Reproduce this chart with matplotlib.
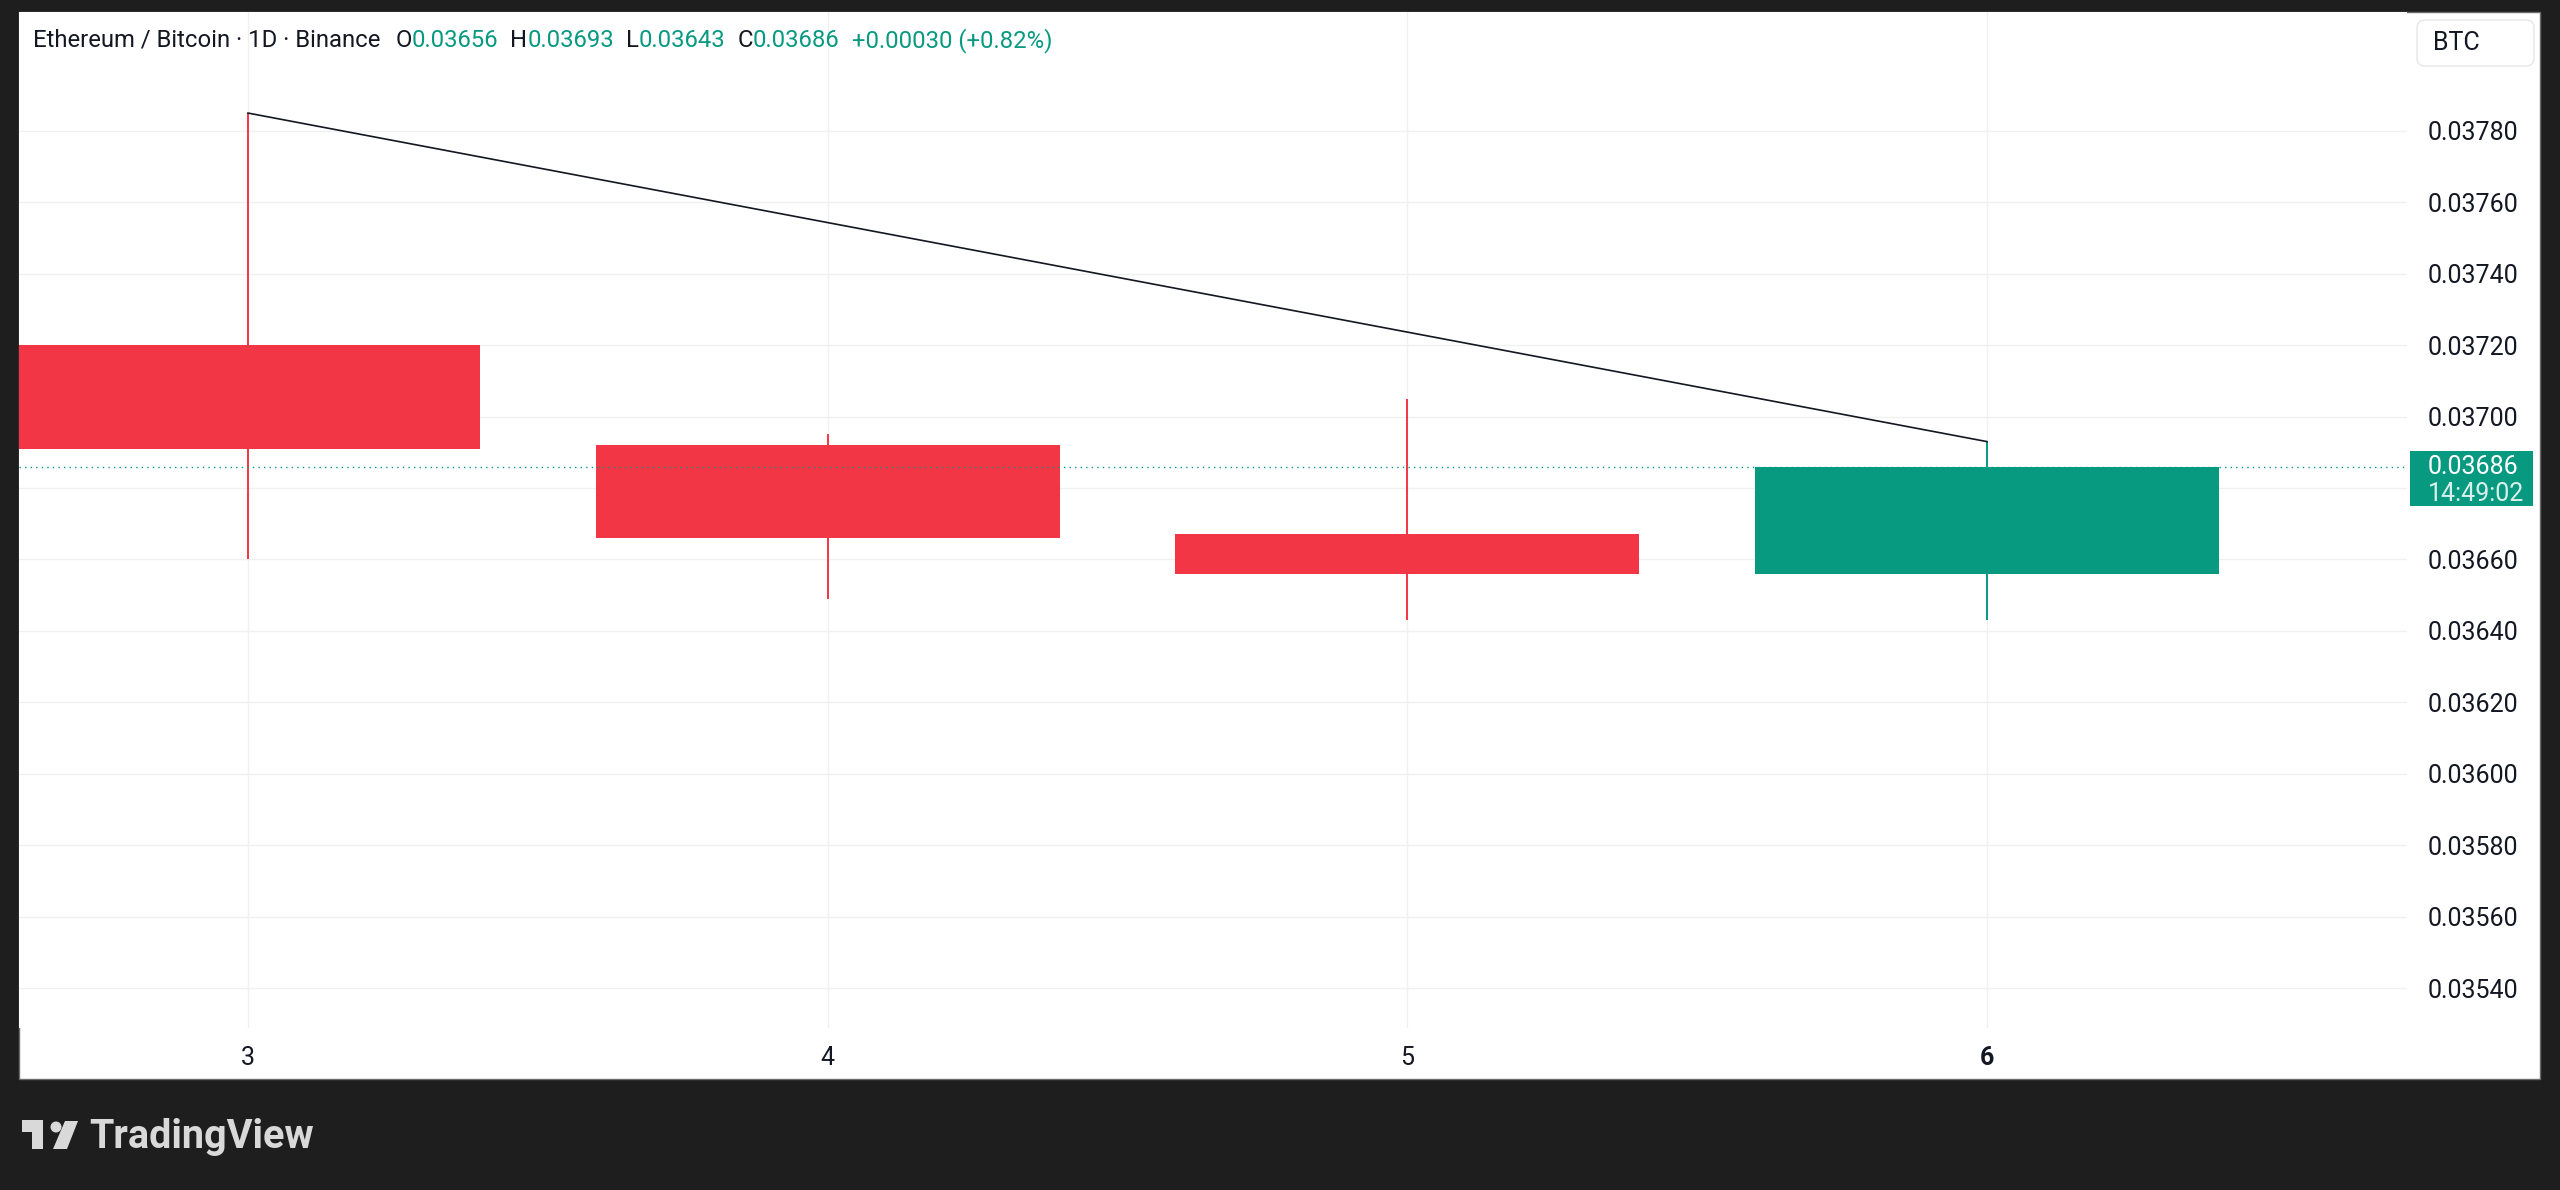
import matplotlib
matplotlib.use('Agg')
import matplotlib.pyplot as plt
from matplotlib.patches import Rectangle, FancyBboxPatch, Circle, Polygon

plt.rcParams['font.family'] = ['Roboto', 'DejaVu Sans']

# daily candles, ETH/BTC on Binance
days = [3, 4, 5, 6]
day_labels = ['3', '4', '5', '6']
opens = [0.03720, 0.03692, 0.03667, 0.03656]
highs = [0.03785, 0.03695, 0.03705, 0.03693]
lows = [0.03660, 0.03649, 0.03643, 0.03643]
closes = [0.03691, 0.03666, 0.03656, 0.03686]

# trend line drawn between the two highs
trend_x = [3, 6]
trend_y = [0.03785, 0.03693]

price_ticks = [0.03540, 0.03560, 0.03580, 0.03600, 0.03620, 0.03640, 0.03660,
               0.03680, 0.03700, 0.03720, 0.03740, 0.03760, 0.03780]
last_price = 0.03686
countdown = '14:49:02'

UP = '#089981'
DOWN = '#F23645'
TEXT = '#131722'
GRID = '#f0f0f0'
W, H = 2560, 1190

fig = plt.figure(figsize=(W / 100, H / 100), dpi=100)
fig.patch.set_facecolor('#1e1e1e')

# background layer in pixel coordinates
bg = fig.add_axes([0, 0, 1, 1], zorder=0)
bg.set_xlim(0, W)
bg.set_ylim(H, 0)
bg.axis('off')
bg.add_patch(Rectangle((19, 12), 2521, 1067, facecolor='white', edgecolor='#6b6b6b', lw=1))

# main price pane
ax = fig.add_axes([19 / W, 1 - 1028 / H, (2407 - 19) / W, (1028 - 12) / H], zorder=1)
ax.set_facecolor('white')
ax.set_xlim(2.605, 6.7245)
ax.set_ylim(0.035288, 0.038133)
for s in ax.spines.values():
    s.set_visible(False)
ax.set_axisbelow(True)
ax.grid(True, color=GRID, lw=1)

ax.yaxis.tick_right()
ax.set_yticks(price_ticks)
# the 0.03680 label sits under the last price tag
ax.set_yticklabels(['' if abs(v - 0.03680) < 1e-9 else '%.5f' % v for v in price_ticks])
ax.set_xticks(days)
ax.set_xticklabels(day_labels)
ax.tick_params(axis='y', length=0, pad=15, labelsize=18, labelcolor=TEXT)
ax.tick_params(axis='x', length=0, pad=13, labelsize=18, labelcolor=TEXT)
ax.get_xticklabels()[-1].set_fontweight('bold')

for d, o, h, l, c in zip(days, opens, highs, lows, closes):
    col = UP if c >= o else DOWN
    ax.vlines(d, l, h, color=col, lw=1.4, zorder=2)
    ax.bar(d, c - o, bottom=o, width=0.8, color=col, zorder=3)

ax.plot(trend_x, trend_y, color=TEXT, lw=1.2, zorder=4)
ax.axhline(last_price, color=UP, lw=1, ls=(0, (1, 3)), zorder=4)

# last price label on the scale
ax.add_patch(Rectangle((1.0013, last_price - 0.000110), 0.0515, 0.000154,
                       transform=ax.get_yaxis_transform(), facecolor=UP,
                       edgecolor='none', clip_on=False, zorder=10))
ax.text(1.0088, last_price, '%.5f' % last_price, transform=ax.get_yaxis_transform(),
        color='white', fontsize=18, va='center', ha='left', zorder=11, clip_on=False)
ax.text(1.0088, last_price - 0.000077, countdown, transform=ax.get_yaxis_transform(),
        color='white', alpha=0.85, fontsize=18, va='center', ha='left', zorder=11, clip_on=False)

# top layer for header, currency box and logo
fg = fig.add_axes([0, 0, 1, 1], zorder=5)
fg.set_xlim(0, W)
fg.set_ylim(H, 0)
fg.axis('off')
fg.patch.set_alpha(0)

fg.add_patch(FancyBboxPatch((2417, 20), 117, 46, boxstyle='round,pad=0,rounding_size=8',
                            facecolor='white', edgecolor='#e6e6e6', lw=1))
fg.text(2433, 43, 'BTC', color=TEXT, fontsize=18, va='center', ha='left')

# header legend
fig.canvas.draw()
r = fig.canvas.get_renderer()
o, h, l, c = opens[-1], highs[-1], lows[-1], closes[-1]
chg = c - o
pct = chg / o * 100
pieces = [('Ethereum / Bitcoin · 1D · Binance', TEXT, 15),
          ('O', TEXT, 0), ('%.5f' % o, UP, 12),
          ('H', TEXT, 0), ('%.5f' % h, UP, 12),
          ('L', TEXT, 0), ('%.5f' % l, UP, 12),
          ('C', TEXT, 0), ('%.5f' % c, UP, 12),
          ('%+.5f (%+.2f%%)' % (chg, pct), UP, 0)]
x = 33
for s, col, gap in pieces:
    t = fg.text(x, 47, s, color=col, fontsize=17.2, va='baseline', ha='left')
    x = t.get_window_extent(r).x1 + gap

# TradingView logo
LOGO = '#d9d9d9'
fg.add_patch(Rectangle((22, 1120), 21, 12, facecolor=LOGO, edgecolor='none'))
fg.add_patch(Rectangle((32, 1120), 11, 29, facecolor=LOGO, edgecolor='none'))
fg.add_patch(Circle((56, 1127), 5.5, facecolor=LOGO, edgecolor='none'))
fg.add_patch(Polygon([(65, 1121), (78, 1121), (67, 1149), (53, 1149)], facecolor=LOGO, edgecolor='none'))
fg.text(89, 1148, 'TradingView', color=LOGO, fontsize=28.5, fontweight='bold', va='baseline', ha='left')

fig.savefig('out.png', dpi=100, facecolor=fig.get_facecolor())
